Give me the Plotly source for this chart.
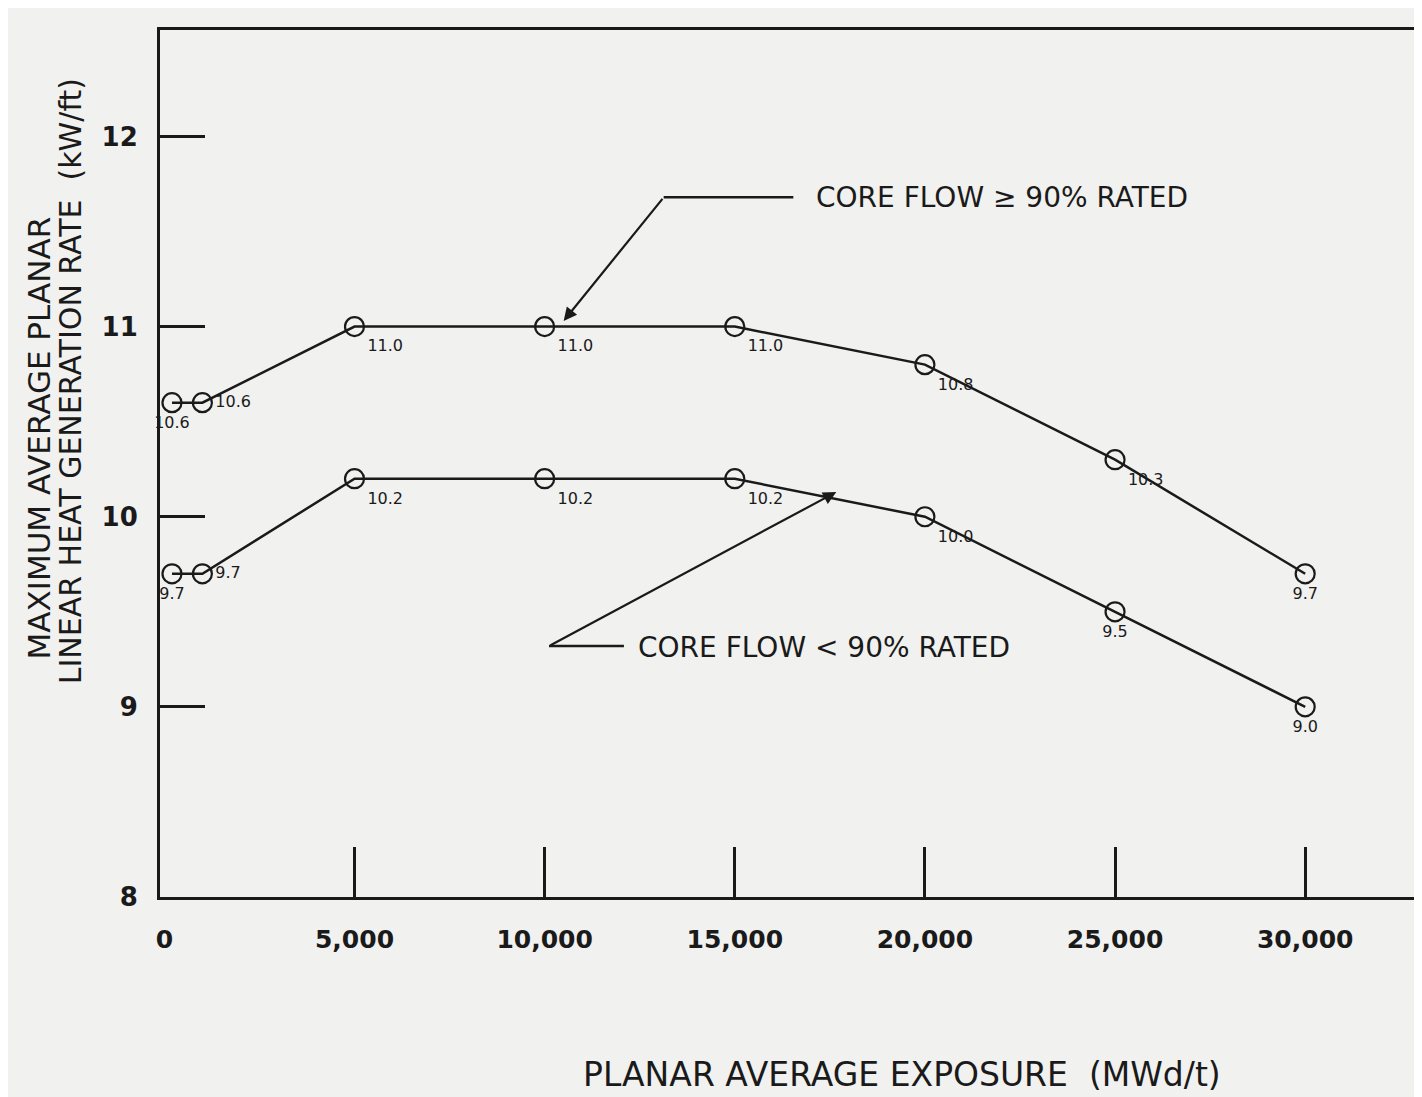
import plotly.graph_objects as go

# Data
exposure = [200, 1000, 5000, 10000, 15000, 20000, 25000, 30000]
mapl_high = [10.6, 10.6, 11.0, 11.0, 11.0, 10.8, 10.3, 9.7]   # core flow >= 90% rated
mapl_low = [9.7, 9.7, 10.2, 10.2, 10.2, 10.0, 9.5, 9.0]       # core flow < 90% rated
label_high = ["10.6", "10.6", "11.0", "11.0", "11.0", "10.8", "10.3", "9.7"]
label_low = ["9.7", "9.7", "10.2", "10.2", "10.2", "10.0", "9.5", "9.0"]
x_ticks = [0, 5000, 10000, 15000, 20000, 25000, 30000]
x_tick_text = ["0", "5,000", "10,000", "15,000", "20,000", "25,000", "30,000"]
x_marks = [5000, 10000, 15000, 20000, 25000, 30000]
y_ticks = [8, 9, 10, 11, 12]

INK = "#1a1a1a"
BG = "#f1f1ef"
FONT = "DejaVu Sans"

pos_high = ["bottom center", "middle right", "bottom right", "bottom right",
            "bottom right", "bottom right", "bottom right", "bottom center"]
pos_low = ["bottom center", "middle right", "bottom right", "bottom right",
           "bottom right", "bottom right", "bottom center", "bottom center"]

fig = go.Figure()
for ys, labels, pos in [(mapl_high, label_high, pos_high), (mapl_low, label_low, pos_low)]:
    fig.add_trace(go.Scatter(
        x=exposure, y=ys, mode="lines+markers+text",
        text=labels, textposition=pos,
        textfont=dict(family=FONT, size=16, color=INK),
        line=dict(color=INK, width=2.5),
        marker=dict(symbol="circle-open", size=19, color=INK, line=dict(width=2.2)),
        showlegend=False, cliponaxis=False,
    ))

# Leader line + arrow: upper curve
fig.add_shape(type="line", x0=13130, y0=11.68, x1=16540, y1=11.68,
              line=dict(color=INK, width=2.5))
fig.add_annotation(x=10500, y=11.03, ax=13130, ay=11.68, axref="x", ayref="y",
                   text="", showarrow=True, arrowhead=2, arrowsize=1.2,
                   arrowwidth=2.2, arrowcolor=INK)
fig.add_annotation(x=17080, y=11.68, xanchor="left", yanchor="middle", showarrow=False,
                   text="CORE FLOW ≥ 90% RATED",
                   font=dict(family=FONT, size=28, color=INK))

# Leader line + arrow: lower curve
fig.add_shape(type="line", x0=10115, y0=9.32, x1=12085, y1=9.32,
              line=dict(color=INK, width=2.5))
fig.add_annotation(x=17670, y=10.13, ax=10115, ay=9.32, axref="x", ayref="y",
                   text="", showarrow=True, arrowhead=2, arrowsize=1.2,
                   arrowwidth=2.2, arrowcolor=INK)
fig.add_annotation(x=12400, y=9.31, xanchor="left", yanchor="middle", showarrow=False,
                   text="CORE FLOW < 90% RATED",
                   font=dict(family=FONT, size=28, color=INK))

# Y-axis title (two lines)
fig.add_annotation(xref="paper", yref="paper", x=-0.0955, y=0.53, xanchor="center",
                   yanchor="middle", showarrow=False, textangle=-90,
                   text="MAXIMUM AVERAGE PLANAR",
                   font=dict(family=FONT, size=31, color=INK))
fig.add_annotation(xref="paper", yref="paper", x=-0.0715, y=0.595, xanchor="center",
                   yanchor="middle", showarrow=False, textangle=-90,
                   text="LINEAR HEAT GENERATION RATE  (kW/ft)",
                   font=dict(family=FONT, size=30, color=INK))
# X-axis title
fig.add_annotation(xref="paper", yref="paper", x=0.59, y=-0.205, xanchor="center",
                   yanchor="middle", showarrow=False,
                   text="PLANAR AVERAGE EXPOSURE  (MWd/t)",
                   font=dict(family=FONT, size=33, color=INK))

fig.update_xaxes(
    range=[-115, 32940], tickvals=x_ticks, ticktext=x_tick_text,
    ticks="", showline=True, linewidth=3, linecolor=INK, mirror=True,
    showgrid=False, zeroline=False, ticklabelstandoff=18,
    tickfont=dict(family=FONT, size=25, color=INK, weight="bold"),
    minor=dict(tickmode="array", tickvals=x_marks, ticks="inside",
               ticklen=50, tickwidth=2.5, tickcolor=INK, showgrid=False),
)
fig.update_yaxes(
    range=[8, 12.56], tickvals=y_ticks,
    ticks="inside", ticklen=45, tickwidth=2.5, tickcolor=INK,
    showline=True, linewidth=3, linecolor=INK, mirror=True,
    showgrid=False, zeroline=False, ticklabelstandoff=14,
    tickfont=dict(family=FONT, size=26, color=INK, weight="bold"),
)
fig.update_layout(
    width=1414, height=1089,
    margin=dict(l=152, r=2, t=22, b=200),
    paper_bgcolor=BG, plot_bgcolor=BG,
)
fig.write_html("out.html")
